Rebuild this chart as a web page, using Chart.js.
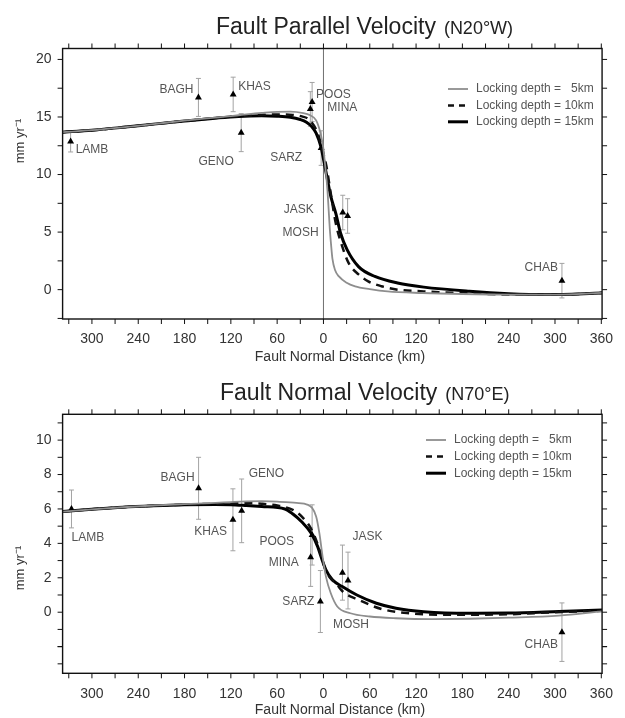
<!DOCTYPE html>
<html>
<head>
<meta charset="utf-8">
<script src="https://cdn.jsdelivr.net/npm/chart.js@4.4.1/dist/chart.umd.min.js"></script>
<style>
  body { margin: 0; background: #fff; }
  .panel { position: absolute; left: 0; width: 625px; }
</style>
</head>
<body>
<div class="panel" style="top:0;height:366px"><canvas id="parallel"></canvas></div>
<div class="panel" style="top:366px;height:352px"><canvas id="normal"></canvas></div>
<script>
// stations (x = fault normal distance in km, negative = north side)
const stationNames = ['LAMB', 'BAGH', 'KHAS', 'GENO', 'POOS', 'MINA', 'SARZ', 'JASK', 'MOSH', 'CHAB'];

// Fault parallel velocity (N20W)
const parStationKm  = [-327.6, -162, -117, -106.6, -14.7, -17, -3, 25, 31.3, 309];
const parStationVel = [12.86, 16.7, 16.96, 13.64, 16.3, 15.7, 12.3, 6.7, 6.4, 0.78];
const parStationErr = [0.9, 1.65, 1.5, 1.65, 1.7, 1.5, 1.5, 1.5, 1.5, 1.5];

const parKm5  = [-338, -300, -260, -220, -180, -140, -110, -80, -60, -43, -26, -18, -9.5, -3.5, 0, 2.3, 5, 6.5, 8.2, 10, 11.6, 15, 20, 30, 41, 60, 83, 128, 180, 240, 300, 361];
const parVel5 = [13.68, 13.85, 14.1, 14.38, 14.68, 14.95, 15.15, 15.35, 15.45, 15.46, 15.33, 15.17, 14.7, 13.5, 12.2, 10.7, 8.8, 7.2, 5.3, 3.8, 2.7, 1.7, 1.15, 0.6, 0.29, 0.05, -0.15, -0.29, -0.38, -0.43, -0.43, -0.28];
const parKm10  = [-338, -300, -260, -220, -180, -140, -110, -80, -60, -40, -28, -18, -7.5, -1.1, 3.9, 7.4, 10.8, 15.9, 24.3, 32.7, 45, 58, 75, 96, 130, 180, 240, 300, 361];
const parVel10 = [13.68, 13.85, 14.1, 14.38, 14.65, 14.9, 15.07, 15.18, 15.22, 15.18, 15.05, 14.74, 13.6, 12.1, 10.7, 9.25, 7.8, 5.78, 3.76, 2.3, 1.35, 0.72, 0.3, 0.0, -0.15, -0.3, -0.42, -0.43, -0.28];
const parKm15  = [-338, -300, -260, -220, -180, -140, -110, -80, -60, -43, -30, -22, -15, -9.5, -3.2, 1, 5.2, 9.5, 15.9, 22.2, 30.6, 45.4, 66.6, 96, 130, 189, 240, 290, 361];
const parVel15 = [13.68, 13.85, 14.1, 14.38, 14.65, 14.9, 15.05, 15.1, 15.07, 14.98, 14.78, 14.55, 14.15, 13.6, 12.4, 11.0, 9.54, 8.1, 6.65, 4.9, 3.47, 2.0, 1.15, 0.58, 0.22, -0.14, -0.35, -0.43, -0.3];

// Fault normal velocity (N70E)
const norStationKm  = [-326.5, -161.8, -117.3, -106, -14.7, -16.6, -4, 24.6, 31.8, 309];
const norStationVel = [6.0, 7.2, 5.37, 5.89, 4.49, 3.2, 0.62, 2.3, 1.84, -1.16];
const norStationErr = [1.1, 1.8, 1.8, 1.85, 1.75, 1.7, 1.8, 1.6, 1.65, 1.7];

const norKm5  = [-338, -300, -260, -220, -180, -140, -120, -100, -80, -60, -35, -20, -9.5, -5.3, -1.1, 3.2, 9.5, 17.9, 34.9, 60, 94, 140, 190, 240, 305, 361];
const norVel5 = [5.85, 5.98, 6.1, 6.2, 6.28, 6.35, 6.4, 6.44, 6.45, 6.43, 6.35, 6.24, 5.56, 4.59, 3.23, 2.07, 1.1, 0.33, -0.06, -0.25, -0.35, -0.4, -0.38, -0.32, -0.2, 0.05];
const norKm10  = [-338, -300, -260, -220, -180, -140, -120, -100, -80, -60, -39, -28, -16, -7.5, -3, 3, 9.5, 16.6, 25, 45.4, 75, 111, 150, 189, 240, 300, 361];
const norVel10 = [5.85, 5.98, 6.1, 6.18, 6.25, 6.3, 6.32, 6.33, 6.3, 6.2, 5.93, 5.55, 4.85, 3.95, 3.3, 2.4, 1.95, 1.65, 1.2, 0.72, 0.19, -0.06, -0.15, -0.15, -0.12, 0.0, 0.08];
const norKm15  = [-338, -300, -260, -220, -180, -140, -120, -100, -80, -50, -40, -28.6, -15.9, -7.5, -3.2, 3.2, 11.6, 24.3, 43.3, 68.6, 94, 130, 189, 240, 305, 361];
const norVel15 = [5.85, 5.98, 6.1, 6.18, 6.24, 6.26, 6.25, 6.2, 6.14, 6.0, 5.72, 5.27, 4.59, 3.81, 3.23, 2.46, 1.88, 1.49, 1.0, 0.52, 0.23, 0.03, -0.06, -0.05, 0.04, 0.13];

// ticks
const xTickValues  = [-300, -240, -180, -120, -60, 0, 60, 120, 180, 240, 300, 360];
const xMinorValues = [-330, -270, -210, -150, -90, -30, 30, 90, 150, 210, 270, 330];
const parYTicks = [0, 5, 10, 15, 20];
const parYMinor = [-2.5, 2.5, 7.5, 12.5, 17.5];
const norYTicks = [0, 2, 4, 6, 8, 10];
const norYMinor = [-3, -2, -1, 1, 3, 5, 7, 9, 11];

const legendLabels = ['Locking depth =   5km', 'Locking depth = 10km', 'Locking depth = 15km'];

// label placement around each triangle: [dx, dy, align]
const parLabelPos = [[5, 8, 'left'], [-5, -8, 'right'], [5, -8, 'left'], [-25, 29, 'center'], [4, -7, 'left'],
                     [17, -1, 'left'], [-19, 10, 'right'], [-29, -3, 'right'], [-29, 17, 'right'], [-4, -13, 'right']];
const norLabelPos = [[0, 29, 'left'], [-4, -11, 'right'], [-6, 12, 'right'], [7, -37, 'left'], [-18, 7, 'right'],
                     [-12, 6, 'right'], [-6, 0, 'right'], [10, -36, 'left'], [-15, 44, 'left'], [-4, 13, 'right']];

const FONT = "'Liberation Sans', Arial, sans-serif";

const toPoints = (xs, ys) => xs.map((x, i) => ({ x: x, y: ys[i] }));

const figurePlugin = {
  id: 'figure',
  beforeDatasetsDraw(chart, args, opts) {
    const { ctx, chartArea: a, scales: { x, y } } = chart;
    ctx.save();
    if (opts.faultLine) {
      const px = x.getPixelForValue(0);
      ctx.strokeStyle = '#6f6f6f';
      ctx.lineWidth = 1;
      ctx.beginPath();
      ctx.moveTo(px, a.top);
      ctx.lineTo(px, a.bottom);
      ctx.stroke();
    }
    // error bars
    ctx.strokeStyle = '#a3a3a3';
    ctx.lineWidth = 1;
    opts.stationKm.forEach((km, i) => {
      const px = x.getPixelForValue(km);
      const top = y.getPixelForValue(opts.stationVel[i] + opts.stationErr[i]);
      const bot = y.getPixelForValue(opts.stationVel[i] - opts.stationErr[i]);
      ctx.beginPath();
      ctx.moveTo(px, top); ctx.lineTo(px, bot);
      ctx.moveTo(px - 2.5, top); ctx.lineTo(px + 2.5, top);
      ctx.moveTo(px - 2.5, bot); ctx.lineTo(px + 2.5, bot);
      ctx.stroke();
    });
    ctx.restore();
  },
  afterDraw(chart, args, opts) {
    const { ctx, chartArea: a, scales: { x, y } } = chart;
    ctx.save();
    // frame
    ctx.strokeStyle = '#111';
    ctx.lineWidth = 1.4;
    ctx.strokeRect(a.left, a.top, a.right - a.left, a.bottom - a.top);
    // outward ticks on four sides
    ctx.lineWidth = 1;
    ctx.beginPath();
    xTickValues.concat(xMinorValues).forEach(v => {
      const px = x.getPixelForValue(v);
      if (px < a.left - 0.5 || px > a.right + 0.5) return;
      ctx.moveTo(px, a.bottom); ctx.lineTo(px, a.bottom + 5);
      ctx.moveTo(px, a.top); ctx.lineTo(px, a.top - 5);
    });
    opts.yTicks.concat(opts.yMinor).forEach(v => {
      const py = y.getPixelForValue(v);
      if (py < a.top - 0.5 || py > a.bottom + 0.5) return;
      ctx.moveTo(a.left, py); ctx.lineTo(a.left - 5, py);
      ctx.moveTo(a.right, py); ctx.lineTo(a.right + 5, py);
    });
    ctx.stroke();

    // station labels
    ctx.fillStyle = '#555';
    ctx.font = '12px ' + FONT;
    ctx.textBaseline = 'middle';
    stationNames.forEach((name, i) => {
      const p = opts.labelPos[i];
      ctx.textAlign = p[2];
      ctx.fillText(name, x.getPixelForValue(opts.stationKm[i]) + p[0], y.getPixelForValue(opts.stationVel[i]) + p[1]);
    });

    // legend
    ctx.textAlign = 'left';
    ctx.font = '12px ' + FONT;
    legendLabels.forEach((lab, i) => {
      const ds = chart.data.datasets[i];
      const ly = opts.legend.y + i * opts.legend.step;
      ctx.strokeStyle = ds.borderColor;
      ctx.lineWidth = ds.borderWidth;
      ctx.setLineDash(ds.borderDash.length ? [6, 5] : []);
      ctx.beginPath();
      ctx.moveTo(opts.legend.x, ly);
      ctx.lineTo(opts.legend.x + 20, ly);
      ctx.stroke();
      ctx.setLineDash([]);
      ctx.fillStyle = '#555';
      ctx.fillText(lab, opts.legend.x + 28, ly);
    });

    // title
    ctx.fillStyle = '#222';
    ctx.textBaseline = 'alphabetic';
    ctx.font = '23px ' + FONT;
    ctx.fillText(opts.title[0], opts.titleX, opts.titleY);
    const w = ctx.measureText(opts.title[0]).width;
    ctx.font = '18px ' + FONT;
    ctx.fillText(opts.title[1], opts.titleX + w + 8, opts.titleY);

    // axis titles
    ctx.fillStyle = '#333';
    ctx.font = '14px ' + FONT;
    ctx.textAlign = 'center';
    ctx.textBaseline = 'middle';
    ctx.fillText('Fault Normal Distance (km)', 340, opts.xTitleY);
    ctx.translate(20, opts.yTitleY);
    ctx.rotate(-Math.PI / 2);
    ctx.font = '13px ' + FONT;
    ctx.fillText('mm yr\u207B\u00B9', 0, 0);
    ctx.restore();
  }
};

function makeChart(id, cfg) {
  const lineDs = (label, km, vel, color, width, dash) => ({
    label: label,
    data: toPoints(km, vel),
    showLine: true,
    borderColor: color,
    borderWidth: width,
    borderDash: dash,
    pointRadius: 0,
    cubicInterpolationMode: 'monotone',
    fill: false
  });
  return new Chart(document.getElementById(id), {
    type: 'scatter',
    data: {
      datasets: [
        lineDs(legendLabels[0], cfg.km5, cfg.vel5, '#8e8e8e', 1.8, []),
        lineDs(legendLabels[1], cfg.km10, cfg.vel10, '#111', 2.5, [8, 6]),
        lineDs(legendLabels[2], cfg.km15, cfg.vel15, '#000', 3, []),
        {
          label: 'GPS stations',
          data: toPoints(cfg.stationKm, cfg.stationVel),
          pointStyle: 'triangle',
          pointRadius: 4,
          backgroundColor: '#000',
          borderColor: '#000',
          borderWidth: 0
        }
      ]
    },
    options: {
      responsive: true,
      maintainAspectRatio: false,
      animation: false,
      layout: { padding: { top: cfg.padTop, right: 10.5, left: 0, bottom: 0 } },
      plugins: {
        legend: { display: false },
        tooltip: { enabled: false },
        figure: {
          faultLine: cfg.faultLine,
          stationKm: cfg.stationKm,
          stationVel: cfg.stationVel,
          stationErr: cfg.stationErr,
          labelPos: cfg.labelPos,
          yTicks: cfg.yTicks.concat(cfg.yExtra || []),
          yMinor: cfg.yMinor,
          legend: cfg.legend,
          title: cfg.title,
          titleX: cfg.titleX,
          titleY: cfg.titleY,
          xTitleY: cfg.xTitleY,
          yTitleY: cfg.yTitleY
        }
      },
      scales: {
        x: {
          type: 'linear',
          min: -338,
          max: 361,
          grid: { display: false, drawTicks: false },
          border: { display: false },
          afterBuildTicks: s => { s.ticks = xTickValues.map(v => ({ value: v })); },
          afterFit: s => { s.height = cfg.xHeight; },
          ticks: {
            padding: 12,
            color: '#333',
            font: { family: FONT, size: 14 },
            maxRotation: 0,
            autoSkip: false,
            callback: v => String(Math.abs(v))
          }
        },
        y: {
          type: 'linear',
          min: cfg.yMin,
          max: cfg.yMax,
          grid: { display: false, drawTicks: false },
          border: { display: false },
          afterBuildTicks: s => { s.ticks = cfg.yTicks.map(v => ({ value: v })); },
          afterFit: s => { s.width = 62.6; },
          ticks: {
            padding: 11,
            color: '#333',
            font: { family: FONT, size: 14 },
            autoSkip: false
          }
        }
      }
    },
    plugins: [figurePlugin]
  });
}

makeChart('parallel', {
  km5: parKm5, vel5: parVel5, km10: parKm10, vel10: parVel10, km15: parKm15, vel15: parVel15,
  stationKm: parStationKm, stationVel: parStationVel, stationErr: parStationErr, labelPos: parLabelPos,
  yMin: -2.55, yMax: 20.95, yTicks: parYTicks, yMinor: parYMinor,
  padTop: 48.5, xHeight: 47, faultLine: true,
  legend: { x: 448, y: 89, step: 16.4 },
  title: ['Fault Parallel Velocity', '(N20\u00B0W)'], titleX: 216, titleY: 34,
  xTitleY: 357, yTitleY: 141
});

makeChart('normal', {
  km5: norKm5, vel5: norVel5, km10: norKm10, vel10: norVel10, km15: norKm15, vel15: norVel15,
  stationKm: norStationKm, stationVel: norStationVel, stationErr: norStationErr, labelPos: norLabelPos,
  yMin: -3.55, yMax: 11.5, yTicks: norYTicks, yExtra: [-2], yMinor: norYMinor,
  padTop: 48.3, xHeight: 44.7, faultLine: false,
  legend: { x: 426, y: 74, step: 16.6 },
  title: ['Fault Normal Velocity', '(N70\u00B0E)'], titleX: 220, titleY: 34,
  xTitleY: 344, yTitleY: 202
});
</script>
</body>
</html>
